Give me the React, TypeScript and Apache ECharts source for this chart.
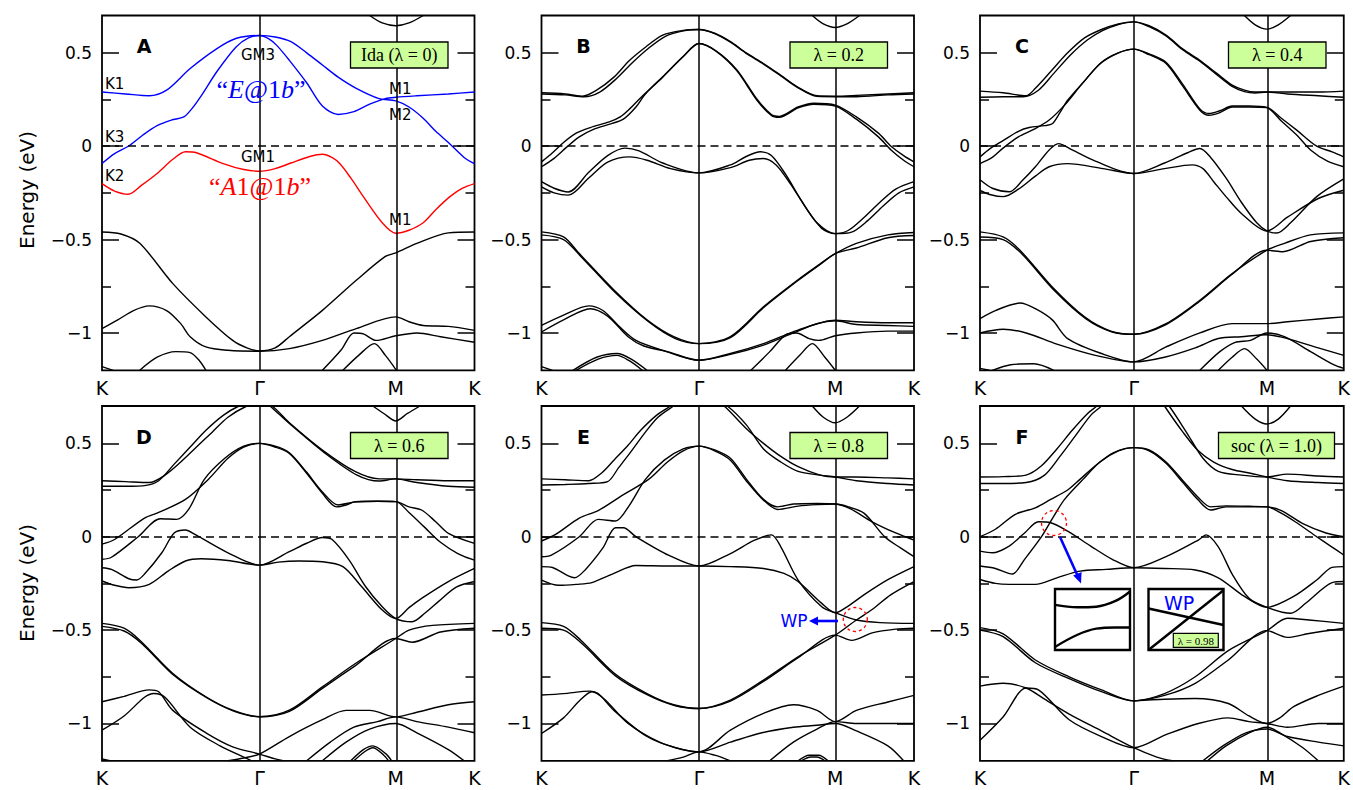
import React, { useEffect, useRef } from "react";
import * as echarts from "echarts";

// ---- axis / tick data ----
const K_PATH = [0, 1, 1.866, 2.366];
const K_LABELS = ["K", "Γ", "M", "K"];
const E_MIN = -1.2;
const E_MAX = 0.7;
const Y_MAJOR = [-1, -0.5, 0, 0.5];
const Y_MINOR = [-0.75, -0.25, 0.25];
const PANEL_LETTERS = ["A", "B", "C", "D", "E", "F"];
const PANEL_TAGS = ["Ida (λ = 0)", "λ = 0.2", "λ = 0.4", "λ = 0.6", "λ = 0.8", "soc (λ = 1.0)"];

// ---- Panel A (lda, λ = 0) ----
const A_BLUE_1 = [[0,0.29],[0.15,0.28],[0.3,0.27],[0.41,0.3],[0.56,0.416],[0.73,0.523],[0.85,0.577],[1,0.593],[1.1,0.585],[1.2,0.56],[1.3,0.5],[1.4,0.435],[1.5,0.37],[1.615,0.31],[1.76,0.255],[1.866,0.243],[1.95,0.21],[2.04,0.15],[2.12,0.08],[2.2,0.02],[2.3,-0.06],[2.366,-0.093]];
const A_BLUE_2 = [[0,-0.093],[0.08,-0.04],[0.167,0],[0.26,0.06],[0.35,0.11],[0.44,0.14],[0.52,0.157],[0.57,0.2],[0.63,0.27],[0.73,0.4],[0.85,0.53],[0.93,0.58],[1,0.593],[1.06,0.575],[1.11,0.54],[1.19,0.46],[1.3,0.34],[1.4,0.215],[1.5,0.17],[1.6,0.185],[1.7,0.225],[1.8,0.255],[1.866,0.262],[2,0.27],[2.2,0.28],[2.366,0.29]];
const A_RED = [[0,-0.2],[0.08,-0.24],[0.167,-0.257],[0.25,-0.21],[0.35,-0.146],[0.45,-0.07],[0.53,-0.03],[0.6,-0.035],[0.77,-0.093],[0.9,-0.125],[1,-0.134],[1.1,-0.12],[1.2,-0.09],[1.32,-0.055],[1.4,-0.043],[1.46,-0.06],[1.51,-0.093],[1.58,-0.17],[1.66,-0.27],[1.78,-0.41],[1.866,-0.466],[1.95,-0.45],[2.04,-0.41],[2.12,-0.34],[2.21,-0.27],[2.29,-0.225],[2.366,-0.2]];
const A_BLACK = [
  [[0,-0.459],[0.12,-0.47],[0.24,-0.52],[0.45,-0.736],[0.66,-0.914],[0.83,-1.04],[0.92,-1.08],[1,-1.096],[1.1,-1.08],[1.19,-1.02],[1.4,-0.879],[1.615,-0.718],[1.8,-0.59],[1.866,-0.571],[2,-0.52],[2.2,-0.464],[2.366,-0.459]],
  [[0,-0.977],[0.1,-0.93],[0.2,-0.88],[0.3,-0.855],[0.41,-0.88],[0.5,-0.95],[0.56,-1.02],[0.66,-1.075],[0.8,-1.093],[1,-1.098],[1.19,-1.084],[1.4,-1.04],[1.615,-0.977],[1.866,-0.914],[1.95,-0.94],[2.04,-0.96],[2.2,-0.965],[2.366,-0.986]],
  [[1.4,-1.2],[1.52,-1.09],[1.6,-1.0],[1.66,-1.005],[1.74,-1.04],[1.866,-1.015],[2,-1.0],[2.15,-1.02],[2.366,-1.05]],
  [[1.53,-1.2],[1.63,-1.12],[1.73,-1.057],[1.8,-1.12],[1.87,-1.2]],
  [[0.24,-1.2],[0.35,-1.13],[0.47,-1.1],[0.56,-1.105],[0.62,-1.15],[0.66,-1.2]],
  [[0,-1.18],[0.07,-1.2]],
  [[1.7,0.7],[1.78,0.66],[1.866,0.645],[1.95,0.66],[2.04,0.7]],
];

// ---- Panel B (λ = 0.2) ----
const B_BANDS = [
  [[0,0.286],[0.15,0.28],[0.26,0.268],[0.35,0.3],[0.46,0.37],[0.56,0.46],[0.66,0.53],[0.77,0.595],[0.9,0.62],[1,0.625],[1.1,0.605],[1.2,0.56],[1.3,0.5],[1.41,0.443],[1.52,0.38],[1.625,0.318],[1.75,0.27],[1.866,0.268],[2,0.272],[2.2,0.28],[2.366,0.286]],
  [[0,0.28],[0.15,0.275],[0.27,0.265],[0.37,0.29],[0.48,0.365],[0.58,0.45],[0.68,0.525],[0.79,0.59],[0.9,0.618],[1,0.625],[1.1,0.603],[1.2,0.557],[1.3,0.497],[1.41,0.44],[1.52,0.377],[1.625,0.315],[1.75,0.267],[1.866,0.265],[2,0.265],[2.2,0.275],[2.366,0.28]],
  [[0,-0.084],[0.07,-0.035],[0.14,0.02],[0.22,0.07],[0.31,0.1],[0.43,0.13],[0.5,0.157],[0.56,0.2],[0.63,0.26],[0.77,0.37],[0.9,0.48],[1,0.55],[1.11,0.51],[1.24,0.41],[1.37,0.25],[1.46,0.17],[1.51,0.16],[1.63,0.21],[1.73,0.23],[1.866,0.22],[2,0.157],[2.14,0.07],[2.22,0],[2.3,-0.05],[2.366,-0.084]],
  [[0,-0.11],[0.08,-0.065],[0.16,-0.005],[0.24,0.05],[0.33,0.09],[0.44,0.12],[0.52,0.145],[0.6,0.21],[0.66,0.28],[0.78,0.38],[0.9,0.48],[1,0.55],[1.11,0.508],[1.24,0.405],[1.37,0.245],[1.46,0.165],[1.51,0.155],[1.63,0.205],[1.73,0.225],[1.866,0.215],[2,0.145],[2.14,0.05],[2.22,-0.02],[2.3,-0.075],[2.366,-0.11]],
  [[0,-0.19],[0.08,-0.225],[0.17,-0.245],[0.3,-0.14],[0.42,-0.05],[0.53,-0.01],[0.62,-0.025],[0.77,-0.09],[1,-0.143],[1.2,-0.1],[1.3,-0.055],[1.39,-0.03],[1.46,-0.05],[1.55,-0.15],[1.65,-0.29],[1.75,-0.41],[1.866,-0.468],[1.95,-0.45],[2.05,-0.38],[2.15,-0.3],[2.25,-0.23],[2.366,-0.19]],
  [[0,-0.218],[0.08,-0.25],[0.17,-0.262],[0.3,-0.17],[0.42,-0.085],[0.56,-0.057],[0.67,-0.075],[0.82,-0.12],[1,-0.143],[1.2,-0.115],[1.32,-0.075],[1.41,-0.066],[1.49,-0.1],[1.58,-0.2],[1.68,-0.33],[1.78,-0.44],[1.866,-0.468],[1.97,-0.46],[2.07,-0.4],[2.17,-0.32],[2.27,-0.25],[2.366,-0.218]],
  [[0,-0.459],[0.14,-0.486],[0.24,-0.575],[0.46,-0.77],[0.67,-0.93],[0.84,-1.02],[1,-1.057],[1.2,-1.02],[1.41,-0.86],[1.625,-0.718],[1.77,-0.63],[1.866,-0.575],[2,-0.52],[2.2,-0.475],[2.366,-0.462]],
  [[0,-0.475],[0.14,-0.5],[0.25,-0.59],[0.47,-0.785],[0.68,-0.94],[0.85,-1.03],[1,-1.057],[1.2,-1.025],[1.41,-0.865],[1.625,-0.722],[1.77,-0.633],[1.866,-0.575],[2,-0.545],[2.2,-0.49],[2.366,-0.478]],
  [[0,-0.96],[0.14,-0.905],[0.3,-0.855],[0.39,-0.88],[0.5,-0.97],[0.6,-1.04],[0.77,-1.093],[1,-1.146],[1.2,-1.11],[1.41,-1.057],[1.625,-0.986],[1.866,-0.932],[2,-0.94],[2.2,-0.945],[2.366,-0.945]],
  [[0,-0.995],[0.14,-0.93],[0.31,-0.87],[0.42,-0.91],[0.55,-1.02],[0.65,-1.07],[0.8,-1.1],[1,-1.146],[1.2,-1.115],[1.41,-1.065],[1.6,-1.0],[1.75,-0.95],[1.866,-0.935],[2,-0.955],[2.2,-0.96],[2.366,-0.965]],
  [[1.33,-1.2],[1.45,-1.1],[1.55,-1.01],[1.62,-1.0],[1.7,-1.03],[1.76,-1.04],[1.866,-1.015],[2,-1.0],[2.2,-0.99],[2.366,-0.99]],
  [[1.55,-1.2],[1.64,-1.12],[1.72,-1.057],[1.8,-1.13],[1.866,-1.2]],
  [[0.2,-1.2],[0.35,-1.13],[0.48,-1.11],[0.57,-1.14],[0.67,-1.2]],
  [[0.22,-1.2],[0.36,-1.14],[0.48,-1.12],[0.56,-1.15],[0.64,-1.2]],
  [[0,-1.18],[0.07,-1.2]],
  [[1.72,0.7],[1.79,0.655],[1.866,0.636],[1.94,0.655],[2.02,0.7]],
];

// ---- Panel C (λ = 0.4) ----
const C_BANDS = [
  [[0,0.295],[0.15,0.286],[0.3,0.27],[0.36,0.31],[0.46,0.4],[0.57,0.5],[0.68,0.58],[0.79,0.625],[0.9,0.655],[1,0.666],[1.1,0.645],[1.21,0.595],[1.32,0.52],[1.43,0.46],[1.54,0.39],[1.64,0.327],[1.72,0.3],[1.79,0.29],[1.866,0.29],[2,0.29],[2.2,0.29],[2.366,0.295]],
  [[0,0.262],[0.15,0.265],[0.28,0.265],[0.38,0.3],[0.48,0.39],[0.59,0.49],[0.7,0.57],[0.8,0.62],[0.9,0.652],[1,0.666],[1.1,0.64],[1.21,0.59],[1.32,0.515],[1.43,0.455],[1.54,0.383],[1.64,0.32],[1.72,0.292],[1.79,0.285],[1.866,0.29],[2,0.28],[2.2,0.27],[2.366,0.262]],
  [[0,-0.057],[0.07,-0.01],[0.15,0.03],[0.25,0.08],[0.32,0.1],[0.42,0.11],[0.47,0.12],[0.52,0.18],[0.57,0.246],[0.68,0.35],[0.79,0.45],[0.9,0.5],[1,0.52],[1.1,0.49],[1.21,0.443],[1.32,0.32],[1.43,0.193],[1.49,0.166],[1.56,0.18],[1.64,0.21],[1.75,0.21],[1.866,0.207],[1.96,0.15],[2.06,0.086],[2.19,0],[2.29,-0.03],[2.366,-0.057]],
  [[0,-0.093],[0.08,-0.06],[0.15,-0.01],[0.25,0.05],[0.35,0.09],[0.45,0.14],[0.55,0.22],[0.66,0.33],[0.78,0.44],[0.9,0.5],[1,0.52],[1.1,0.495],[1.21,0.45],[1.32,0.33],[1.43,0.2],[1.49,0.175],[1.56,0.19],[1.64,0.215],[1.75,0.215],[1.866,0.207],[1.96,0.135],[2.06,0.06],[2.15,-0.02],[2.26,-0.08],[2.366,-0.11]],
  [[0,-0.18],[0.08,-0.225],[0.19,-0.244],[0.28,-0.18],[0.36,-0.11],[0.45,-0.02],[0.51,0.014],[0.6,-0.02],[0.75,-0.08],[1,-0.146],[1.2,-0.09],[1.35,-0.035],[1.43,-0.0125],[1.5,-0.06],[1.6,-0.17],[1.7,-0.3],[1.8,-0.41],[1.866,-0.454],[1.93,-0.465],[2.02,-0.41],[2.19,-0.27],[2.366,-0.175]],
  [[0,-0.236],[0.07,-0.26],[0.15,-0.27],[0.25,-0.23],[0.36,-0.16],[0.45,-0.11],[0.57,-0.093],[0.8,-0.12],[1,-0.146],[1.2,-0.12],[1.38,-0.1],[1.45,-0.12],[1.52,-0.19],[1.6,-0.27],[1.7,-0.36],[1.866,-0.454],[2,-0.38],[2.2,-0.28],[2.366,-0.236]],
  [[0,-0.459],[0.15,-0.486],[0.26,-0.557],[0.47,-0.754],[0.68,-0.914],[0.85,-0.99],[1,-1.007],[1.21,-0.95],[1.43,-0.825],[1.64,-0.682],[1.866,-0.557],[1.98,-0.52],[2.15,-0.475],[2.366,-0.464]],
  [[0,-0.486],[0.15,-0.5],[0.27,-0.575],[0.48,-0.77],[0.69,-0.925],[0.86,-0.995],[1,-1.007],[1.21,-0.955],[1.43,-0.83],[1.64,-0.686],[1.866,-0.557],[1.97,-0.565],[2.15,-0.51],[2.366,-0.49]],
  [[0,-0.923],[0.1,-0.88],[0.26,-0.84],[0.36,-0.87],[0.47,-0.93],[0.57,-1.03],[0.79,-1.11],[1,-1.155],[1.21,-1.075],[1.43,-1.0],[1.64,-0.95],[1.866,-0.95],[2,-0.94],[2.2,-0.925],[2.366,-0.914]],
  [[0,-1.0],[0.15,-0.98],[0.3,-1.0],[0.5,-1.06],[0.75,-1.12],[1,-1.155],[1.2,-1.13],[1.4,-1.08],[1.55,-1.03],[1.7,-1.02],[1.866,-1.01],[2,-1.03],[2.2,-1.08],[2.366,-1.12]],
  [[1.43,-1.2],[1.56,-1.1],[1.66,-1.05],[1.76,-1.04],[1.866,-1.0],[1.98,-1.02],[2.15,-1.1],[2.3,-1.17],[2.366,-1.19]],
  [[1.55,-1.2],[1.64,-1.13],[1.72,-1.084],[1.8,-1.14],[1.866,-1.2]],
  [[0.08,-1.2],[0.2,-1.17],[0.35,-1.165],[0.48,-1.2]],
  [[0,-1.19],[0.06,-1.2]],
  [[1.72,0.7],[1.79,0.65],[1.866,0.627],[1.94,0.65],[2.02,0.7]],
];

// ---- Panel D (λ = 0.6) ----
const D_BANDS = [
  [[0,0.3],[0.15,0.295],[0.3,0.29],[0.4,0.33],[0.5,0.4],[0.6,0.48],[0.7,0.56],[0.8,0.64],[0.92,0.7],[1,0.72],[1.08,0.7],[1.19,0.61],[1.4,0.464],[1.61,0.348],[1.76,0.31],[1.866,0.31],[2,0.305],[2.2,0.3],[2.366,0.3]],
  [[0,0.27],[0.15,0.27],[0.28,0.275],[0.36,0.3],[0.46,0.39],[0.56,0.48],[0.66,0.57],[0.77,0.65],[0.87,0.7],[1,0.74],[1.04,0.72],[1.12,0.66],[1.22,0.585],[1.42,0.445],[1.62,0.33],[1.76,0.298],[1.866,0.31],[2,0.29],[2.2,0.27],[2.366,0.265]],
  [[0,-0.04],[0.08,-0.015],[0.27,0.1],[0.36,0.13],[0.53,0.2],[0.675,0.307],[0.8,0.42],[0.9,0.48],[1,0.5],[1.1,0.48],[1.19,0.446],[1.3,0.34],[1.4,0.232],[1.49,0.16],[1.55,0.17],[1.61,0.188],[1.75,0.19],[1.866,0.188],[1.95,0.16],[2.03,0.143],[2.12,0.08],[2.2,0.018],[2.366,-0.036]],
  [[0,-0.121],[0.06,-0.11],[0.23,0],[0.37,0.096],[0.475,0.093],[0.55,0.146],[0.65,0.307],[0.78,0.42],[0.9,0.485],[1,0.5],[1.1,0.485],[1.19,0.45],[1.3,0.345],[1.4,0.24],[1.5,0.17],[1.6,0.185],[1.75,0.19],[1.866,0.188],[1.95,0.13],[2.05,0.05],[2.15,-0.03],[2.26,-0.09],[2.366,-0.125]],
  [[0,-0.166],[0.06,-0.175],[0.17,-0.225],[0.22,-0.232],[0.27,-0.2],[0.38,-0.086],[0.46,0.021],[0.53,0.036],[0.59,0.0125],[0.8,-0.086],[1,-0.152],[1.19,-0.08],[1.3,-0.035],[1.4,-0.004],[1.46,-0.014],[1.57,-0.125],[1.675,-0.268],[1.78,-0.375],[1.866,-0.438],[1.97,-0.455],[2.05,-0.41],[2.14,-0.345],[2.25,-0.27],[2.366,-0.24]],
  [[0,-0.237],[0.08,-0.26],[0.17,-0.273],[0.3,-0.255],[0.42,-0.184],[0.53,-0.13],[0.63,-0.118],[0.8,-0.127],[1,-0.152],[1.12,-0.136],[1.25,-0.13],[1.4,-0.134],[1.53,-0.16],[1.65,-0.268],[1.78,-0.393],[1.866,-0.438],[1.95,-0.38],[2.03,-0.33],[2.2,-0.24],[2.366,-0.17]],
  [[0,-0.464],[0.14,-0.49],[0.24,-0.554],[0.45,-0.732],[0.66,-0.857],[0.83,-0.929],[1,-0.964],[1.19,-0.929],[1.4,-0.804],[1.61,-0.679],[1.866,-0.545],[1.95,-0.5],[2.1,-0.475],[2.366,-0.464]],
  [[0,-0.48],[0.14,-0.505],[0.25,-0.57],[0.46,-0.745],[0.67,-0.865],[0.84,-0.935],[1,-0.964],[1.19,-0.935],[1.4,-0.812],[1.61,-0.69],[1.866,-0.545],[1.97,-0.565],[2.15,-0.51],[2.366,-0.49]],
  [[0,-0.884],[0.14,-0.855],[0.3,-0.82],[0.36,-0.83],[0.45,-0.93],[0.66,-1.05],[0.83,-1.125],[1,-1.164],[1.1,-1.19],[1.15,-1.2]],
  [[0,-1.036],[0.14,-0.96],[0.27,-0.86],[0.33,-0.84],[0.4,-0.86],[0.56,-1.02],[0.75,-1.12],[0.9,-1.18],[0.95,-1.2]],
  [[0.8,-1.2],[0.9,-1.185],[1,-1.164],[1.19,-1.07],[1.4,-0.98],[1.55,-0.93],[1.7,-0.93],[1.866,-0.965],[2,-0.94],[2.2,-0.9],[2.366,-0.884]],
  [[1.3,-1.2],[1.45,-1.1],[1.6,-1.02],[1.75,-0.99],[1.866,-0.965],[2,-0.99],[2.2,-1.02],[2.366,-1.05]],
  [[1.4,-1.2],[1.55,-1.1],[1.7,-1.03],[1.866,-1.0],[2,-1.05],[2.2,-1.14],[2.3,-1.2]],
  [[1.58,-1.2],[1.66,-1.14],[1.72,-1.12],[1.8,-1.16],[1.84,-1.2]],
  [[1.6,-1.2],[1.67,-1.15],[1.72,-1.13],[1.79,-1.17],[1.82,-1.2]],
  [[0,-1.19],[0.05,-1.2]],
  [[1.72,0.7],[1.79,0.66],[1.866,0.62],[1.94,0.66],[2.02,0.7]],
];

// ---- Panel E (λ = 0.8) ----
const E_BANDS = [
  [[0,0.31],[0.15,0.305],[0.3,0.3],[0.38,0.34],[0.46,0.41],[0.55,0.49],[0.63,0.57],[0.73,0.65],[0.82,0.7],[1,0.8],[1.16,0.7],[1.3,0.58],[1.41,0.5],[1.52,0.43],[1.63,0.375],[1.77,0.33],[1.866,0.32],[2,0.32],[2.2,0.315],[2.366,0.31]],
  [[0,0.277],[0.15,0.28],[0.3,0.285],[0.42,0.295],[0.49,0.37],[0.56,0.446],[0.66,0.56],[0.74,0.64],[0.84,0.7],[1,0.79],[1.18,0.7],[1.3,0.6],[1.41,0.47],[1.52,0.4],[1.63,0.35],[1.77,0.33],[1.866,0.32],[2,0.3],[2.2,0.285],[2.366,0.277]],
  [[0,-0.023],[0.09,0.0125],[0.24,0.1],[0.36,0.14],[0.51,0.22],[0.68,0.307],[0.8,0.4],[0.9,0.46],[1,0.485],[1.1,0.46],[1.2,0.41],[1.3,0.3],[1.41,0.196],[1.5,0.146],[1.63,0.164],[1.75,0.172],[1.866,0.175],[1.95,0.16],[2.05,0.125],[2.18,0],[2.28,-0.06],[2.366,-0.107]],
  [[0,-0.107],[0.06,-0.1],[0.24,0],[0.36,0.093],[0.47,0.084],[0.555,0.164],[0.66,0.307],[0.78,0.41],[0.9,0.47],[1,0.485],[1.1,0.465],[1.2,0.42],[1.3,0.31],[1.41,0.2],[1.5,0.16],[1.6,0.175],[1.75,0.178],[1.866,0.175],[1.96,0.15],[2.1,0.08],[2.25,0.02],[2.366,-0.018]],
  [[0,-0.16],[0.07,-0.165],[0.17,-0.21],[0.21,-0.22],[0.28,-0.175],[0.39,-0.06],[0.47,0.048],[0.52,0.048],[0.6,0],[0.81,-0.1],[1,-0.157],[1.2,-0.09],[1.35,-0.02],[1.46,0.01],[1.52,-0.054],[1.63,-0.232],[1.78,-0.375],[1.866,-0.407],[2,-0.446],[2.15,-0.46],[2.366,-0.464]],
  [[0,-0.232],[0.11,-0.26],[0.22,-0.255],[0.32,-0.246],[0.45,-0.2],[0.6,-0.154],[0.81,-0.157],[1,-0.157],[1.2,-0.16],[1.41,-0.17],[1.54,-0.196],[1.63,-0.24],[1.78,-0.357],[1.866,-0.407],[1.95,-0.37],[2.05,-0.31],[2.2,-0.23],[2.366,-0.16]],
  [[0,-0.46],[0.14,-0.48],[0.25,-0.554],[0.46,-0.73],[0.67,-0.84],[0.84,-0.9],[1,-0.92],[1.2,-0.875],[1.41,-0.768],[1.63,-0.643],[1.866,-0.527],[2,-0.446],[2.1,-0.39],[2.22,-0.31],[2.366,-0.24]],
  [[0,-0.49],[0.14,-0.5],[0.26,-0.575],[0.47,-0.745],[0.68,-0.85],[0.85,-0.905],[1,-0.92],[1.2,-0.88],[1.41,-0.775],[1.63,-0.648],[1.866,-0.527],[1.97,-0.555],[2.1,-0.515],[2.25,-0.495],[2.366,-0.49]],
  [[0,-0.848],[0.14,-0.84],[0.31,-0.827],[0.36,-0.84],[0.46,-0.93],[0.67,-1.07],[0.85,-1.13],[1,-1.152],[1.2,-1.1],[1.4,-1.05],[1.6,-1.02],[1.75,-1.01],[1.866,-1.0],[2,-1.04],[2.2,-1.12],[2.3,-1.2]],
  [[0,-1.054],[0.14,-0.97],[0.24,-0.88],[0.32,-0.83],[0.4,-0.87],[0.55,-1.0],[0.75,-1.1],[0.9,-1.14],[1,-1.152],[1.2,-1.036],[1.41,-0.946],[1.6,-0.9],[1.75,-0.93],[1.866,-0.99],[2,-0.93],[2.2,-0.885],[2.366,-0.85]],
  [[1.45,-1.2],[1.6,-1.1],[1.75,-1.03],[1.866,-0.99],[2,-1.0],[2.2,-1.0],[2.366,-1.0]],
  [[0.8,-1.2],[0.9,-1.18],[1,-1.152],[1.1,-1.17],[1.2,-1.2]],
  [[1.63,-1.2],[1.7,-1.17],[1.76,-1.17],[1.82,-1.2]],
  [[1.65,-1.2],[1.71,-1.18],[1.75,-1.18],[1.8,-1.2]],
  [[1.72,0.7],[1.79,0.64],[1.866,0.61],[1.94,0.64],[2.02,0.7]],
];

// ---- Panel F (soc, λ = 1.0) ----
const F_BANDS = [
  [[0,0.32],[0.15,0.322],[0.3,0.33],[0.4,0.38],[0.5,0.47],[0.6,0.57],[0.7,0.66],[0.76,0.7],[1,0.9],[1.2,0.72],[1.23,0.7],[1.35,0.55],[1.45,0.42],[1.55,0.35],[1.7,0.33],[1.866,0.32],[2,0.335],[2.2,0.325],[2.366,0.32]],
  [[0,0.285],[0.15,0.285],[0.3,0.29],[0.42,0.33],[0.52,0.43],[0.62,0.54],[0.72,0.65],[0.79,0.7],[1,0.88],[1.19,0.72],[1.2,0.7],[1.32,0.56],[1.42,0.46],[1.52,0.4],[1.64,0.36],[1.76,0.34],[1.866,0.32],[2,0.3],[2.2,0.29],[2.366,0.285]],
  [[0,0],[0.1,0.04],[0.23,0.12],[0.36,0.155],[0.46,0.2],[0.57,0.25],[0.65,0.307],[0.75,0.38],[0.87,0.45],[1,0.477],[1.1,0.46],[1.21,0.393],[1.32,0.29],[1.42,0.196],[1.5,0.143],[1.6,0.16],[1.75,0.16],[1.866,0.16],[1.95,0.13],[2.05,0.08],[2.19,0],[2.28,-0.05],[2.366,-0.098]],
  [[0,-0.157],[0.1,-0.17],[0.21,-0.2],[0.29,-0.121],[0.4,0],[0.48,0.11],[0.55,0.2],[0.67,0.307],[0.78,0.4],[0.9,0.46],[1,0.477],[1.1,0.465],[1.21,0.4],[1.32,0.3],[1.42,0.21],[1.5,0.16],[1.6,0.165],[1.75,0.163],[1.866,0.16],[1.96,0.14],[2.1,0.07],[2.25,0.02],[2.366,0]],
  [[0,-0.077],[0.08,-0.086],[0.19,-0.05],[0.29,0.02],[0.38,0.08],[0.46,0.075],[0.57,0.03],[0.72,-0.05],[0.86,-0.121],[1,-0.166],[1.21,-0.107],[1.42,-0.018],[1.47,0.01],[1.55,-0.054],[1.64,-0.2],[1.75,-0.33],[1.866,-0.378],[2.02,-0.41],[2.12,-0.355],[2.29,-0.246],[2.366,-0.24]],
  [[0,-0.229],[0.1,-0.25],[0.19,-0.255],[0.36,-0.255],[0.5,-0.22],[0.65,-0.184],[0.82,-0.175],[1,-0.166],[1.2,-0.17],[1.4,-0.178],[1.55,-0.22],[1.72,-0.32],[1.866,-0.378],[2.04,-0.32],[2.19,-0.232],[2.29,-0.164],[2.366,-0.16]],
  [[0,-0.487],[0.15,-0.52],[0.36,-0.66],[0.58,-0.75],[0.79,-0.82],[1,-0.879],[1.2,-0.84],[1.4,-0.75],[1.615,-0.61],[1.866,-0.503],[2,-0.437],[2.14,-0.446],[2.366,-0.464]],
  [[0,-0.5],[0.15,-0.535],[0.36,-0.675],[0.58,-0.76],[0.79,-0.83],[1,-0.879],[1.2,-0.85],[1.4,-0.785],[1.615,-0.66],[1.866,-0.503],[2,-0.539],[2.14,-0.518],[2.366,-0.49]],
  [[0,-0.8],[0.15,-0.785],[0.3,-0.81],[0.42,-0.87],[0.58,-0.95],[0.79,-1.04],[1,-1.13],[1.15,-1.18],[1.25,-1.2]],
  [[0,-1.09],[0.15,-0.965],[0.3,-0.81],[0.38,-0.82],[0.58,-0.98],[0.79,-1.07],[1,-1.13],[1.21,-1.06],[1.42,-1.0],[1.615,-0.97],[1.75,-0.99],[1.866,-1.0],[2,-1.02],[2.2,-1.0],[2.366,-1.0]],
  [[1,-0.879],[1.2,-0.87],[1.4,-0.866],[1.615,-0.893],[1.75,-0.96],[1.866,-1.0],[1.95,-0.97],[2.04,-0.91],[2.2,-0.85],[2.366,-0.8]],
  [[1.48,-1.2],[1.6,-1.12],[1.75,-1.05],[1.866,-1.02],[1.95,-1.05],[2.1,-1.13],[2.2,-1.2]],
  [[1.45,-1.2],[1.58,-1.12],[1.73,-1.05],[1.866,-1.03],[2,-1.07],[2.2,-1.1],[2.366,-1.12]],
  [[1.7,0.7],[1.79,0.63],[1.866,0.604],[1.94,0.63],[2.02,0.7]],
];

// ---- inset data (panel F) ----
const INSET_GAP_UPPER = [[0,0.74],[0.3,0.7],[0.55,0.71],[0.8,0.8],[1,0.96]];
const INSET_GAP_LOWER = [[0,0.05],[0.3,0.25],[0.55,0.35],[0.8,0.37],[1,0.37]];
const INSET_WP_1 = [[0,0],[1,0.98]];
const INSET_WP_2 = [[0,0.68],[1,0.41]];

const BANDS = [
  [A_BLUE_1, A_BLUE_2, A_RED, ...A_BLACK],
  B_BANDS, C_BANDS, D_BANDS, E_BANDS, F_BANDS,
];
const A_COLORS = ["#0000ff", "#0000ff", "#ff0000"];

// ---- layout ----
const GRID_LEFTS = [102, 541.5, 980];
const GRID_TOPS = [15.5, 406];
const GW = 372.5;
const GH = 354.8;
const SANS = "DejaVu Sans";
const SERIF = "Liberation Serif";
const TAG_GREEN = "#ccff99";

function minusFmt(v: number) {
  if (Math.abs(v) < 1e-9) return "0";
  return v < 0 ? "\u2212" + String(Math.abs(v)) : String(v);
}

function buildOption() {
  const grids: any[] = [];
  const xAxes: any[] = [];
  const yAxes: any[] = [];
  const series: any[] = [];
  const graphic: any[] = [];

  for (let i = 0; i < 6; i++) {
    const left = GRID_LEFTS[i % 3];
    const top = GRID_TOPS[Math.floor(i / 3)];
    grids.push({ left, top, width: GW, height: GH, show: true, borderColor: "#000", borderWidth: 1.8, backgroundColor: "transparent" });
    xAxes.push({
      gridIndex: i, type: "value", min: 0, max: K_PATH[3],
      axisLine: { show: false }, axisTick: { show: false }, splitLine: { show: false },
      axisLabel: {
        customValues: K_PATH, showMinLabel: true, showMaxLabel: true, hideOverlap: false,
        formatter: (v: number) => { const k = K_PATH.findIndex((p) => Math.abs(p - v) < 1e-6); return k >= 0 ? K_LABELS[k] : ""; },
        fontSize: 19, fontFamily: SANS, color: "#000", margin: 8,
      },
    });
    const base = { gridIndex: i, type: "value", min: E_MIN, max: E_MAX, axisLine: { show: false }, splitLine: { show: false } };
    yAxes.push({ ...base, position: "left",
      axisTick: { show: true, inside: true, length: 17, customValues: Y_MAJOR, lineStyle: { color: "#000", width: 1.5 } },
      axisLabel: { customValues: Y_MAJOR, formatter: minusFmt, fontSize: 17, fontFamily: SANS, color: "#000", margin: 10 } });
    yAxes.push({ ...base, position: "left",
      axisTick: { show: true, inside: true, length: 9, customValues: Y_MINOR, lineStyle: { color: "#000", width: 1.5 } },
      axisLabel: { show: false } });
    yAxes.push({ ...base, position: "right",
      axisTick: { show: true, inside: true, length: 17, customValues: Y_MAJOR, lineStyle: { color: "#000", width: 1.5 } },
      axisLabel: { show: false } });
    yAxes.push({ ...base, position: "right",
      axisTick: { show: true, inside: true, length: 9, customValues: Y_MINOR, lineStyle: { color: "#000", width: 1.5 } },
      axisLabel: { show: false } });

    BANDS[i].forEach((band, j) => {
      const color = i === 0 && j < 3 ? A_COLORS[j] : "#000";
      const s: any = {
        type: "line", xAxisIndex: i, yAxisIndex: 4 * i, data: band,
        symbol: "none", showSymbol: false, smooth: 0.3, silent: true, clip: true,
        lineStyle: { color, width: 1.4 }, z: j < 3 && i === 0 ? 4 : 3,
      };
      if (j === 0) {
        s.markLine = {
          silent: true, symbol: ["none", "none"], label: { show: false }, animation: false,
          data: [
            { xAxis: K_PATH[1], lineStyle: { color: "#000", width: 1.5, type: "solid" } },
            { xAxis: K_PATH[2], lineStyle: { color: "#000", width: 1.5, type: "solid" } },
            { yAxis: 0, lineStyle: { color: "#000", width: 1.5, type: [8, 5] } },
          ],
        };
      }
      series.push(s);
    });

    graphic.push({ type: "text", x: left + 42, y: top + 30.5, z: 100,
      style: { text: PANEL_LETTERS[i], fontSize: 19, fontWeight: "bold", fontFamily: SANS, fill: "#000", align: "center", verticalAlign: "middle" } });
    const wide = i === 5;
    const bx = wide ? left + 238.5 : left + 248.5;
    const bw = wide ? 116 : 97.5;
    graphic.push({ type: "rect", z: 100, shape: { x: bx, y: top + 26.5, width: bw, height: 26 },
      style: { fill: TAG_GREEN, stroke: "#000", lineWidth: 1.3 } });
    graphic.push({ type: "text", z: 101, x: bx + bw / 2, y: top + 39.5,
      style: { text: PANEL_TAGS[i], fontSize: 18, fontFamily: SERIF, fill: "#000", align: "center", verticalAlign: "middle" } });
  }

  const insets = [{ left: 1055, top: 589 }, { left: 1148.5, top: 589 }];
  insets.forEach((g, n) => {
    const gi = 6 + n;
    grids.push({ left: g.left, top: g.top, width: 75, height: 61, show: true, borderColor: "#000", borderWidth: 2.4, backgroundColor: "#fff", z: 10 });
    xAxes.push({ gridIndex: gi, type: "value", min: 0, max: 1, show: false });
    yAxes.push({ gridIndex: gi, type: "value", min: 0, max: 1, show: false });
  });
  [[INSET_GAP_UPPER, 6, 24], [INSET_GAP_LOWER, 6, 24], [INSET_WP_1, 7, 25], [INSET_WP_2, 7, 25]].forEach(([d, xi, yi]: any) => {
    series.push({ type: "line", xAxisIndex: xi, yAxisIndex: yi, data: d, symbol: "none", smooth: 0.4, silent: true,
      lineStyle: { color: "#000", width: 2.4 }, z: 12 });
  });

  [190, 583].forEach((cy) => {
    graphic.push({ type: "text", x: 27, y: cy, rotation: Math.PI / 2, z: 100,
      style: { text: "Energy (eV)", fontSize: 20, fontFamily: SANS, fill: "#000", align: "center", verticalAlign: "middle" } });
  });

  const lab = (text: string, x: number, y: number, align = "left") => ({
    type: "text", x, y, z: 100,
    style: { text, fontSize: 15, fontFamily: SANS, fill: "#000", align, verticalAlign: "middle" },
  });
  graphic.push(lab("K1", 105, 84), lab("GM3", 258, 55, "center"), lab("M1", 389, 89), lab("M2", 389, 115),
    lab("K3", 105, 137), lab("GM1", 258, 157, "center"), lab("K2", 105, 176), lab("M1", 389, 220));
  const richLabel = (text: string, color: string, x: number, y: number) => ({
    type: "text", x, y, z: 100,
    style: {
      text, align: "center", verticalAlign: "middle",
      rich: {
        n: { fontSize: 26, fontFamily: SERIF, fill: color },
        i: { fontSize: 26, fontFamily: SERIF, fontStyle: "italic", fill: color },
      },
    },
  });
  graphic.push(richLabel("{n|\u201c}{i|E}{n|@1}{i|b}{n|\u201d}", "#0000ff", 261, 89));
  graphic.push(richLabel("{n|\u201c}{i|A}{n|1@1}{i|b}{n|\u201d}", "#ff0000", 260, 186));

  graphic.push({ type: "circle", z: 100, shape: { cx: 855.3, cy: 619.5, r: 12 },
    style: { fill: "none", stroke: "#ff0000", lineWidth: 1.3, lineDash: [3, 3] } });
  graphic.push({ type: "line", z: 100, shape: { x1: 838, y1: 621, x2: 816, y2: 621 }, style: { stroke: "#0000ff", lineWidth: 2.6 } });
  graphic.push({ type: "polygon", z: 100, shape: { points: [[809, 621], [818, 616.5], [818, 625.5]] }, style: { fill: "#0000ff" } });
  graphic.push({ type: "text", z: 100, x: 794, y: 621,
    style: { text: "WP", fontSize: 17, fontFamily: SANS, fill: "#0000ff", align: "center", verticalAlign: "middle" } });

  graphic.push({ type: "circle", z: 100, shape: { cx: 1054, cy: 523, r: 12.5 },
    style: { fill: "none", stroke: "#ff0000", lineWidth: 1.3, lineDash: [3, 3] } });
  graphic.push({ type: "line", z: 100, shape: { x1: 1060, y1: 537, x2: 1077.5, y2: 575.5 }, style: { stroke: "#0000ff", lineWidth: 2.6 } });
  graphic.push({ type: "polygon", z: 100, shape: { points: [[1081, 583.5], [1073.2, 575.6], [1081.6, 571.9]] }, style: { fill: "#0000ff" } });
  graphic.push({ type: "text", z: 100, x: 1179, y: 602.5,
    style: { text: "WP", fontSize: 19, fontFamily: SANS, fill: "#0000ff", align: "center", verticalAlign: "middle" } });
  graphic.push({ type: "rect", z: 100, shape: { x: 1173.3, y: 633.3, width: 45, height: 14 },
    style: { fill: TAG_GREEN, stroke: "#000", lineWidth: 1.2 } });
  graphic.push({ type: "text", z: 101, x: 1195.8, y: 640.5,
    style: { text: "λ = 0.98", fontSize: 11, fontFamily: SERIF, fill: "#000", align: "center", verticalAlign: "middle" } });

  return {
    animation: false,
    backgroundColor: "#fff",
    grid: grids,
    xAxis: xAxes,
    yAxis: yAxes,
    series,
    graphic,
  };
}

export default function App() {
  const ref = useRef<HTMLDivElement | null>(null);
  useEffect(() => {
    if (!ref.current) return;
    const chart = echarts.init(ref.current, undefined, { renderer: "svg" });
    chart.setOption(buildOption() as any);
    return () => chart.dispose();
  }, []);
  return <div ref={ref} style={{ position: "absolute", left: 0, top: 0, width: 1353, height: 790 }} />;
}
